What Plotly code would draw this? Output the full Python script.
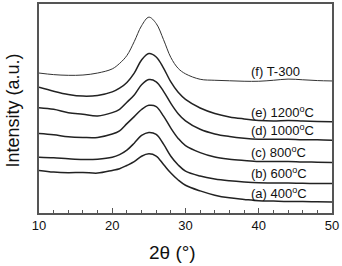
import plotly.graph_objects as go

two_theta = [10, 12, 14, 16, 18, 20, 21, 22, 23, 24, 25, 26, 27, 28, 29, 30,
             32, 34, 36, 38, 40, 42, 44, 46, 48, 50]

s_400 = [43, 41.3, 40.7, 41, 40.3, 43, 44.7, 48, 51.8, 57.3, 59.7, 57.5, 49, 40.3, 33.3, 28,
         22.3, 18, 15.3, 13.7, 12.3, 12, 11.7, 11.7, 11.3, 11]
s_600 = [56.3, 55.7, 54.7, 54, 54.3, 56.3, 59, 63.5, 70.5, 78.3, 81.3, 79.3, 69.5, 57.3, 48.5, 42.3,
         37.3, 34.3, 32.5, 31.3, 30.5, 30.3, 30.3, 30, 29.8, 29.7]
s_800 = [80.3, 79, 77, 76.3, 76.3, 79.7, 83, 90.2, 97.3, 104.5, 108.7, 107.5, 97.8, 85.7, 75.3, 68,
         61, 56.5, 54.3, 53, 52, 52, 52, 51.5, 51.3, 51]
s_1000 = [106.3, 104.7, 101.3, 99.7, 98, 101.3, 104.7, 111.8, 119.2, 129.5, 134.7, 132.5, 122.8, 110.7, 100.3, 93,
          84.5, 79.8, 77.2, 75.5, 74.5, 74.5, 74.5, 74, 74, 73.5]
s_1200 = [127, 123, 119.7, 118, 118.7, 122.3, 126, 131.8, 141.2, 154.5, 161, 157.5, 146.3, 132.3, 121.8, 114.7,
          106, 100.5, 97, 95, 93.5, 93, 93.5, 93, 92.5, 92]
s_t300 = [141.3, 139.7, 139, 139.3, 141.3, 145.5, 151, 159, 173, 189, 197.7, 191.3, 175, 157, 146, 140.5,
          135, 134, 133.5, 133, 133, 134, 135.2, 134.5, 133.7, 133.3]

series = [s_400, s_600, s_800, s_1000, s_1200, s_t300]
labels = ["(a) 400<sup>o</sup>C", "(b) 600<sup>o</sup>C", "(c) 800<sup>o</sup>C",
          "(d) 1000<sup>o</sup>C", "(e) 1200<sup>o</sup>C", "(f) T-300"]
label_y = [20, 40, 62, 84, 102, 143]
label_x = 38.7

fig = go.Figure()
for i, s in enumerate(series):
    fig.add_trace(go.Scatter(
        x=two_theta, y=s, mode="lines", line_shape="spline",
        line=dict(color="#222" if i < 5 else "#333", width=1.5 if i < 5 else 1.0),
        showlegend=False, hoverinfo="skip"))

for t, yv in zip(labels, label_y):
    fig.add_annotation(x=label_x, y=yv, text=t, showarrow=False, xanchor="left",
                       yanchor="middle", font=dict(size=13, color="#111"))

fig.add_annotation(x=0.457, y=-0.19, xref="paper", yref="paper", text="2θ (°)",
                   xanchor="center", yanchor="middle",
                   showarrow=False, font=dict(size=19, color="#111"))
fig.add_annotation(x=-0.089, y=0.49, xref="paper", yref="paper", text="Intensity (a.u.)",
                   xanchor="center", yanchor="middle",
                   textangle=-90, showarrow=False, font=dict(size=18, color="#111"))

fig.update_xaxes(range=[10, 50], tickvals=[10, 20, 30, 40, 50], ticks="inside", ticklen=5,
                 tickcolor="#555", showline=True, linecolor="#555", linewidth=1.5, mirror=True,
                 showgrid=False, zeroline=False, tickfont=dict(size=13, color="#111"),
                 ticklabeloverflow="allow",
                 minor=dict(dtick=2, ticks="inside", ticklen=3, tickcolor="#555"))
fig.update_yaxes(range=[0, 211], showticklabels=False, ticks="", showline=True, linecolor="#555",
                 linewidth=1.5, mirror=True, showgrid=False, zeroline=False)

fig.update_layout(width=342, height=266, margin=dict(l=39, r=10, t=2, b=53),
                  paper_bgcolor="white", plot_bgcolor="white",
                  font=dict(family="Arial, Liberation Sans, sans-serif"))

fig.write_html("out.html", config={"displayModeBar": False},
               post_script="document.body.style.margin='0';")
